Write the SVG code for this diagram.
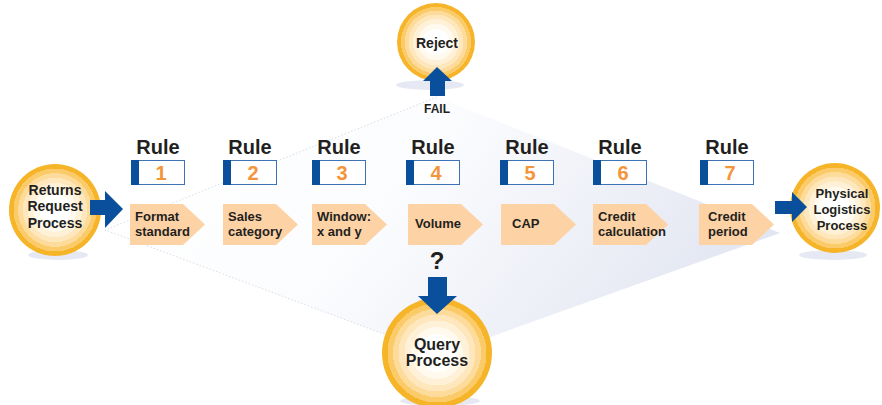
<svg xmlns="http://www.w3.org/2000/svg" width="882" height="405" viewBox="0 0 882 405">
  <defs>
    <radialGradient id="ringFill" cx="0.5" cy="0.5" r="0.5">
      <stop offset="0" stop-color="#ffffff"/>
      <stop offset="0.34" stop-color="#ffffff"/>
      <stop offset="0.34" stop-color="#fff9ee"/>
      <stop offset="0.47" stop-color="#fff9ee"/>
      <stop offset="0.47" stop-color="#fff1d8"/>
      <stop offset="0.59" stop-color="#fff1d8"/>
      <stop offset="0.59" stop-color="#fee7bc"/>
      <stop offset="0.7" stop-color="#fee7bc"/>
      <stop offset="0.7" stop-color="#fddb9a"/>
      <stop offset="0.8" stop-color="#fddb9a"/>
      <stop offset="0.8" stop-color="#fbcb6a"/>
      <stop offset="0.9" stop-color="#fbcb6a"/>
      <stop offset="0.9" stop-color="#f6b428"/>
      <stop offset="1" stop-color="#f6b428"/>
    </radialGradient>
    <linearGradient id="planeFill" x1="0" y1="0.35" x2="1" y2="0.65">
      <stop offset="0" stop-color="#ffffff"/>
      <stop offset="0.4" stop-color="#fbfcfe"/>
      <stop offset="1" stop-color="#e0e4f0"/>
    </linearGradient>
    <style>
      .lbl { font-family: "Liberation Sans", Arial, sans-serif; font-weight: bold; fill: #231f20; }
      .rule { font-size: 20px; text-anchor: middle; }
      .num { font-family: "Liberation Sans", Arial, sans-serif; font-weight: bold; font-size: 20px; fill: #f3953a; text-anchor: middle; }
      .step { font-size: 13px; }
      .circ { font-size: 14px; text-anchor: middle; }
      .chev { fill: #fdd2a5; }
      .box { fill: #ffffff; stroke: #3d72b4; stroke-width: 1; }
      .band { fill: #0a4f9c; }
      .arrow { fill: #0a4f9c; }
      .ring { fill: url(#ringFill); }
      .shadow { fill: #e6e9f3; }
    </style>
  </defs>

  <!-- background plane -->
  <polygon points="105,230 437,97 780,233 440,355" fill="url(#planeFill)"/>
  <polyline points="437,97 105,230 440,355" fill="none" stroke="#cfd3de" stroke-width="0.8" stroke-dasharray="1.5,2"/>

  <!-- start node -->
  <g id="returns-request">
    <ellipse class="shadow" cx="58" cy="255" rx="30" ry="5"/>
    <circle class="ring" cx="55" cy="210" r="46"/>
    <text class="lbl circ" x="55" y="195">Returns</text>
    <text class="lbl circ" x="55" y="211">Request</text>
    <text class="lbl circ" x="55" y="228">Process</text>
  </g>

  <!-- reject node -->
  <g id="reject">
    <ellipse class="shadow" cx="430" cy="85" rx="34" ry="5"/>
    <circle class="ring" cx="436" cy="42" r="39"/>
    <text class="lbl circ" x="437" y="48">Reject</text>
  </g>

  <!-- query node -->
  <g id="query">
    <ellipse class="shadow" cx="440" cy="401" rx="40" ry="5"/>
    <circle class="ring" cx="437" cy="353" r="55"/>
    <text class="lbl" x="437" y="350" font-size="16" text-anchor="middle">Query</text>
    <text class="lbl" x="437" y="366" font-size="16" text-anchor="middle">Process</text>
  </g>

  <!-- end node -->
  <g id="physical-logistics">
    <ellipse class="shadow" cx="833" cy="255" rx="34" ry="5"/>
    <circle class="ring" cx="835" cy="208" r="45"/>
    <text class="lbl" x="842" y="198" font-size="13" text-anchor="middle">Physical</text>
    <text class="lbl" x="842" y="214" font-size="13" text-anchor="middle">Logistics</text>
    <text class="lbl" x="842" y="230" font-size="13" text-anchor="middle">Process</text>
  </g>

  <!-- rules -->
  <g id="rule-1">
    <text class="lbl rule" x="158" y="154">Rule</text>
    <rect class="box" x="131.5" y="160.5" width="53" height="24"/>
    <rect class="band" x="131" y="160" width="8" height="25"/>
    <text class="num" x="161" y="180">1</text>
    <polygon class="chev" points="130,204 183,204 205,224.5 183,245 130,245"/>
    <text class="lbl step" x="135" y="221">Format</text>
    <text class="lbl step" x="135" y="236">standard</text>
  </g>
  <g id="rule-2">
    <text class="lbl rule" x="250" y="154">Rule</text>
    <rect class="box" x="223.5" y="160.5" width="53" height="24"/>
    <rect class="band" x="223" y="160" width="8" height="25"/>
    <text class="num" x="253" y="180">2</text>
    <polygon class="chev" points="223,204 276,204 298,224.5 276,245 223,245"/>
    <text class="lbl step" x="228" y="221">Sales</text>
    <text class="lbl step" x="228" y="236">category</text>
  </g>
  <g id="rule-3">
    <text class="lbl rule" x="339" y="154">Rule</text>
    <rect class="box" x="312.5" y="160.5" width="53" height="24"/>
    <rect class="band" x="312" y="160" width="8" height="25"/>
    <text class="num" x="342" y="180">3</text>
    <polygon class="chev" points="312,204 365,204 387,224.5 365,245 312,245"/>
    <text class="lbl step" x="317" y="221">Window:</text>
    <text class="lbl step" x="317" y="236">x and y</text>
  </g>
  <g id="rule-4">
    <text class="lbl rule" x="433" y="154">Rule</text>
    <rect class="box" x="406.5" y="160.5" width="53" height="24"/>
    <rect class="band" x="406" y="160" width="8" height="25"/>
    <text class="num" x="436" y="180">4</text>
    <polygon class="chev" points="408,204 461,204 483,224.5 461,245 408,245"/>
    <text class="lbl step" x="415" y="228">Volume</text>
  </g>
  <g id="rule-5">
    <text class="lbl rule" x="527" y="154">Rule</text>
    <rect class="box" x="500.5" y="160.5" width="53" height="24"/>
    <rect class="band" x="500" y="160" width="8" height="25"/>
    <text class="num" x="530" y="180">5</text>
    <polygon class="chev" points="501,204 554,204 576,224.5 554,245 501,245"/>
    <text class="lbl step" x="512" y="228">CAP</text>
  </g>
  <g id="rule-6">
    <text class="lbl rule" x="620" y="154">Rule</text>
    <rect class="box" x="593.5" y="160.5" width="53" height="24"/>
    <rect class="band" x="593" y="160" width="8" height="25"/>
    <text class="num" x="623" y="180">6</text>
    <polygon class="chev" points="593,204 646,204 668,224.5 646,245 593,245"/>
    <text class="lbl step" x="598" y="221">Credit</text>
    <text class="lbl step" x="598" y="236">calculation</text>
  </g>
  <g id="rule-7">
    <text class="lbl rule" x="727" y="154">Rule</text>
    <rect class="box" x="700.5" y="160.5" width="53" height="24"/>
    <rect class="band" x="700" y="160" width="8" height="25"/>
    <text class="num" x="730" y="180">7</text>
    <polygon class="chev" points="699,204 752,204 774,224.5 752,245 699,245"/>
    <text class="lbl step" x="708" y="221">Credit</text>
    <text class="lbl step" x="708" y="236">period</text>
  </g>

  <!-- connectors, drawn over the nodes -->
  <g id="connectors">
    <!-- start to rule 1 -->
    <polygon class="arrow" points="90,200 105,200 105,191 123,209 105,228 105,215 90,215"/>
    <!-- rule 7 to logistics -->
    <polygon class="arrow" points="775,201 792,201 792,192 807,207 792,222 792,214 775,214"/>
    <!-- fail to reject -->
    <polygon class="arrow" points="430,96 430,81 423,81 437,67 452,81 445,81 445,96"/>
    <text class="lbl" x="437" y="113" font-size="12" text-anchor="middle">FAIL</text>
    <!-- volume to query -->
    <polygon class="arrow" points="428,277 447,277 447,296 457,296 437,314 418,296 428,296"/>
    <text class="lbl" x="437" y="269" font-size="24" text-anchor="middle">?</text>
  </g>
</svg>
